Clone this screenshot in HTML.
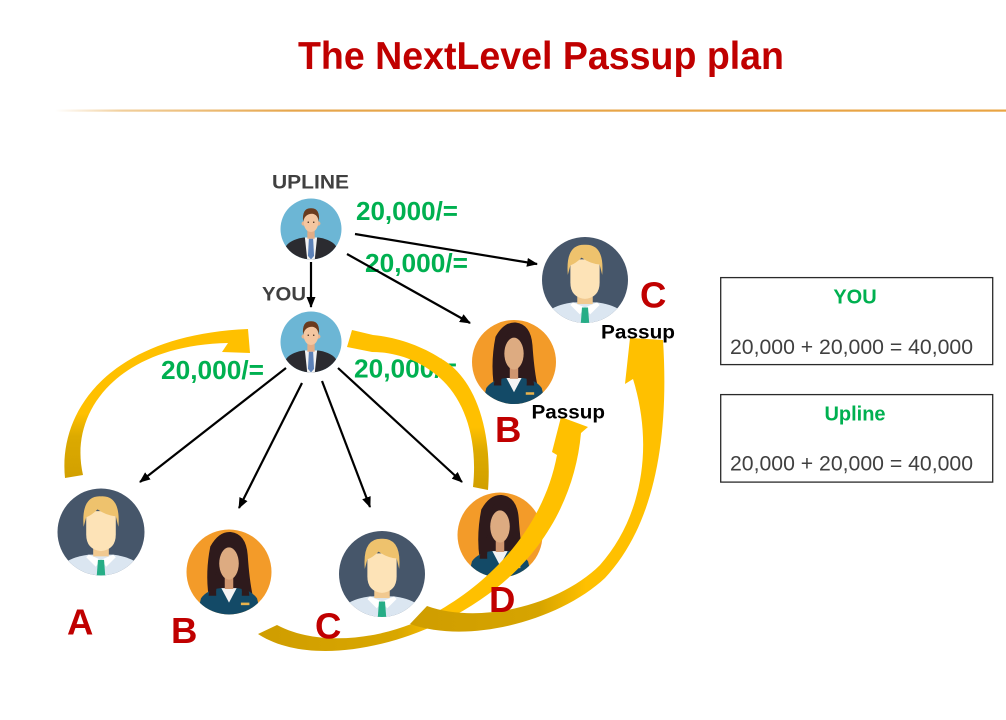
<!DOCTYPE html>
<html>
<head>
<meta charset="utf-8">
<style>
  html,body{margin:0;padding:0;background:#fff;}
  svg{display:block;}
  text{font-family:"Liberation Sans", Arial, sans-serif;}
</style>
</head>
<body>
<svg width="1006" height="720" viewBox="0 0 1006 720" xmlns="http://www.w3.org/2000/svg">
  <defs>
    <linearGradient id="hl" x1="55" y1="0" x2="1006" y2="0" gradientUnits="userSpaceOnUse">
      <stop offset="0" stop-color="#ffffff"/>
      <stop offset="0.07" stop-color="#f1cf9c"/>
      <stop offset="0.25" stop-color="#e6a64c"/>
      <stop offset="1" stop-color="#e9a443"/>
    </linearGradient>
    <linearGradient id="g1" x1="0" y1="482" x2="0" y2="330" gradientUnits="userSpaceOnUse">
      <stop offset="0" stop-color="#d19f00"/>
      <stop offset="0.3" stop-color="#dcaa00"/>
      <stop offset="0.45" stop-color="#ffc000"/>
      <stop offset="1" stop-color="#ffc000"/>
    </linearGradient>
    <linearGradient id="g2" x1="0" y1="492" x2="0" y2="330" gradientUnits="userSpaceOnUse">
      <stop offset="0" stop-color="#d19f00"/>
      <stop offset="0.25" stop-color="#dcaa00"/>
      <stop offset="0.4" stop-color="#ffc000"/>
      <stop offset="1" stop-color="#ffc000"/>
    </linearGradient>
    <linearGradient id="g3" x1="258" y1="0" x2="590" y2="0" gradientUnits="userSpaceOnUse">
      <stop offset="0" stop-color="#cf9d00"/>
      <stop offset="0.42" stop-color="#d9a700"/>
      <stop offset="0.56" stop-color="#ffc000"/>
      <stop offset="1" stop-color="#ffc000"/>
    </linearGradient>
    <linearGradient id="g4" x1="410" y1="0" x2="668" y2="0" gradientUnits="userSpaceOnUse">
      <stop offset="0" stop-color="#cf9d00"/>
      <stop offset="0.5" stop-color="#d6a400"/>
      <stop offset="0.68" stop-color="#ffc000"/>
      <stop offset="1" stop-color="#ffc000"/>
    </linearGradient>
    <marker id="ah" markerWidth="11" markerHeight="9" refX="10" refY="4.5" orient="auto" markerUnits="userSpaceOnUse">
      <path d="M0,0 L11,4.5 L0,9 Z" fill="#000"/>
    </marker>
    <clipPath id="cc"><circle cx="0" cy="0" r="50"/></clipPath>

    <!-- Businessman -->
    <g id="biz">
      <circle r="50" fill="#6cb6d5"/>
      <g clip-path="url(#cc)">
        <path d="M-48,52 L-42,30 Q-36,18 -12,14 L12,14 Q36,18 42,30 L48,52 Z" fill="#2b2b30"/>
        <path d="M-10,14 L10,14 L6,52 L-6,52 Z" fill="#f2f2f2"/>
        <rect x="-6" y="2" width="12" height="14" fill="#e3ad86"/>
        <path d="M-3.5,16 L3.5,16 L5,44 L0,50 L-5,44 Z" fill="#5d82b8"/>
        <circle cx="-12" cy="-9" r="3.5" fill="#e8b48e"/>
        <circle cx="12" cy="-9" r="3.5" fill="#e8b48e"/>
        <ellipse cx="0" cy="-11" rx="12" ry="16" fill="#f4c6a0"/>
        <path d="M-13,-12 Q-15,-35 0,-34 Q15,-35 13,-12 Q11,-24 2,-25 Q-10,-25 -13,-12 Z" fill="#6a3b1e"/>
        <circle cx="-4.5" cy="-11" r="1.2" fill="#3a2416"/>
        <circle cx="4.5" cy="-11" r="1.2" fill="#3a2416"/>
      </g>
    </g>

    <!-- Young man -->
    <g id="man">
      <circle r="50" fill="#46566a"/>
      <g clip-path="url(#cc)">
        <path d="M-50,52 L-44,38 Q-36,29 -14,26 L14,26 Q36,29 44,38 L50,52 Z" fill="#dbe6f1"/>
        <rect x="-9" y="8" width="18" height="20" fill="#f1c990"/>
        <path d="M-14,26 L0,32 L-6,40 L-17,29 Z" fill="#ffffff"/>
        <path d="M14,26 L0,32 L6,40 L17,29 Z" fill="#ffffff"/>
        <path d="M-3.5,32 L3.5,32 L5,52 L-5,52 Z" fill="#26ad86"/>
        <path d="M-17,-24 L17,-24 L17,3 Q17,20 0,22 Q-17,20 -17,3 Z" fill="#fde3b7"/>
        <path d="M-20,-6 Q-23,-42 0,-41 Q23,-42 20,-6 L17,-18 Q6,-19 -4,-26 Q-11,-19 -17,-17 Z" fill="#eec26d"/>
      </g>
    </g>

    <!-- Woman -->
    <g id="wom">
      <circle r="50" fill="#f39b29"/>
      <g clip-path="url(#cc)">
        <path d="M-24,28 Q-28,0 -22,-30 Q-12,-48 2,-47 Q20,-45 22,-20 Q24,10 28,28 Z" fill="#2e1a1c"/>
        <path d="M-38,52 L-33,31 Q-26,21 -10,19 L10,19 Q26,21 33,31 L38,52 Z" fill="#134a67"/>
        <path d="M-9,19 L9,19 L0,36 Z" fill="#f4f4f4"/>
        <rect x="-5" y="4" width="10" height="16" fill="#cf9670"/>
        <ellipse cx="0" cy="-10" rx="11.5" ry="19" fill="#ddab81"/>
        <path d="M-13,-10 Q-13,-38 0,-38 Q14,-38 13,-10 Q10,-29 0,-30 Q-10,-29 -13,-10 Z" fill="#2e1a1c"/>
        <path d="M-24,28 Q-22,10 -14,0 L-12,10 Q-16,18 -15,28 Z" fill="#2e1a1c"/>
        <path d="M24,28 Q22,10 14,0 L12,10 Q16,18 15,28 Z" fill="#2e1a1c"/>
        <rect x="14" y="36" width="10" height="3" fill="#e8b24c"/>
      </g>
    </g>
  </defs>

  <!-- Title -->
  <text x="298" y="69" font-size="39" font-weight="bold" fill="#c00000" textLength="486" lengthAdjust="spacingAndGlyphs">The NextLevel Passup plan</text>
  <rect x="55" y="109.5" width="951" height="2.2" fill="url(#hl)"/>

  <!-- Labels -->
  <text x="272" y="188.5" font-size="19" font-weight="bold" fill="#404040" textLength="77" lengthAdjust="spacingAndGlyphs">UPLINE</text>
  <text x="262" y="300.5" font-size="19" font-weight="bold" fill="#404040" textLength="44" lengthAdjust="spacingAndGlyphs">YOU</text>

  <text x="356" y="220" font-size="25.5" font-weight="bold" fill="#00b050" textLength="102" lengthAdjust="spacingAndGlyphs">20,000/=</text>
  <text x="365" y="272" font-size="25.5" font-weight="bold" fill="#00b050" textLength="103" lengthAdjust="spacingAndGlyphs">20,000/=</text>
  <text x="161" y="379" font-size="25.5" font-weight="bold" fill="#00b050" textLength="103" lengthAdjust="spacingAndGlyphs">20,000/=</text>
  <text x="354" y="377.5" font-size="25.5" font-weight="bold" fill="#00b050" textLength="103" lengthAdjust="spacingAndGlyphs">20,000/=</text>

  <!-- Black arrows -->
  <g stroke="#000" stroke-width="2.2" fill="none" marker-end="url(#ah)">
    <line x1="311" y1="262" x2="311" y2="307"/>
    <line x1="355" y1="234" x2="537" y2="264"/>
    <line x1="347" y1="254" x2="470" y2="323"/>
    <line x1="286" y1="368" x2="140" y2="482"/>
    <line x1="302" y1="383" x2="239" y2="508"/>
    <line x1="322" y1="381" x2="370" y2="507"/>
    <line x1="338" y1="368" x2="462" y2="482"/>
  </g>

  <!-- Icons -->
  <use href="#biz" transform="translate(311,229) scale(0.61)"/>
  <use href="#biz" transform="translate(311,342) scale(0.61)"/>
  <use href="#wom" transform="translate(514,362) scale(0.84)"/>
  <use href="#man" transform="translate(585,280) scale(0.86)"/>
  <use href="#man" transform="translate(101,532) scale(0.87)"/>
  <use href="#wom" transform="translate(229,572) scale(0.85)"/>
  <use href="#man" transform="translate(382,574) scale(0.86)"/>
  <use href="#wom" transform="translate(500,535) scale(0.85)"/>

  <!-- Yellow curved arrows -->
  <path d="M65,478 C58,410 110,335 248,329 L250,353 L222,352 L228,343 C120,345 68,410 83,475 Z" fill="url(#g1)"/>
  <path d="M473,487 L488,490 C492,440 480,380 440,358 C420,345 395,337 373,335 L352,330 L347,347 L372,352 C395,352 420,360 440,378 C465,400 478,440 473,487 Z" fill="url(#g2)"/>
  <path d="M258,634 L277,625 C320,648 390,640 440,610 C500,575 545,520 557,455 L552,452 L561,417 L588,427 L581,433 C575,500 540,560 480,600 C410,648 310,668 258,634 Z" fill="url(#g3)"/>
  <path d="M427,606 L410,624 C470,645 560,620 605,578 C650,530 670,450 663,340 L630,338 L625,384 L633,379 C655,450 640,520 600,565 C560,605 480,625 427,606 Z" fill="url(#g4)"/>

  <!-- Red letters -->
  <g font-size="36.5" font-weight="bold" fill="#c00000">
    <text x="67" y="634.5">A</text>
    <text x="171" y="643">B</text>
    <text x="315" y="638.5">C</text>
    <text x="489" y="612">D</text>
    <text x="495" y="442">B</text>
    <text x="640" y="307.5">C</text>
  </g>

  <!-- Passup -->
  <text x="601" y="338.5" font-size="19.5" font-weight="bold" fill="#000" textLength="74" lengthAdjust="spacingAndGlyphs">Passup</text>
  <text x="531.5" y="418.5" font-size="19.5" font-weight="bold" fill="#000" textLength="73.5" lengthAdjust="spacingAndGlyphs">Passup</text>

  <!-- Boxes -->
  <rect x="720.7" y="277.6" width="272" height="87" fill="#fff" stroke="#2a2a2a" stroke-width="1.3"/>
  <text x="855" y="303.3" font-size="20" font-weight="bold" fill="#00b050" text-anchor="middle">YOU</text>
  <text x="730" y="354" font-size="21" fill="#404040" textLength="243" lengthAdjust="spacingAndGlyphs">20,000 + 20,000 = 40,000</text>

  <rect x="720.7" y="394.6" width="272" height="87.5" fill="#fff" stroke="#2a2a2a" stroke-width="1.3"/>
  <text x="855" y="420.5" font-size="20" font-weight="bold" fill="#00b050" text-anchor="middle">Upline</text>
  <text x="730" y="470.7" font-size="21" fill="#404040" textLength="243" lengthAdjust="spacingAndGlyphs">20,000 + 20,000 = 40,000</text>
</svg>
</body>
</html>
